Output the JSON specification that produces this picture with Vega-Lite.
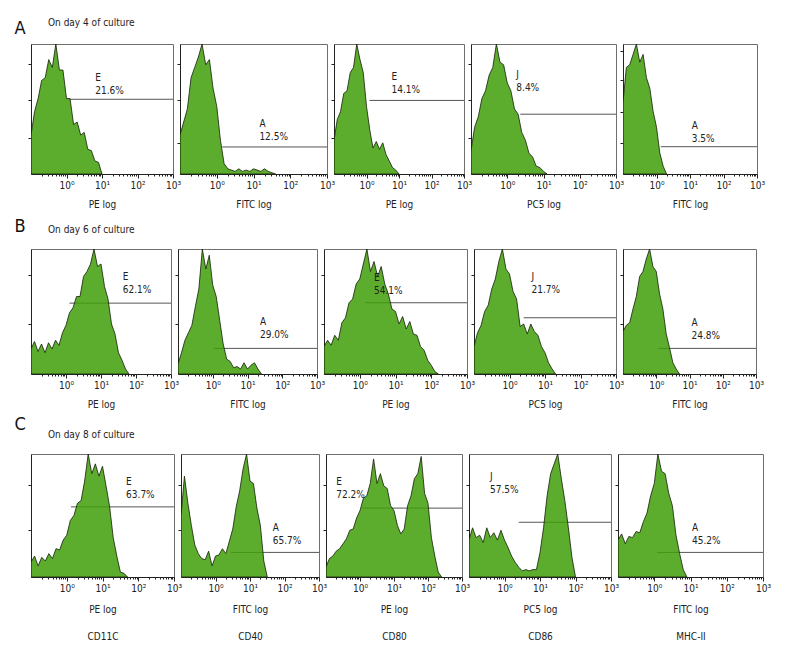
{
"$schema": "https://vega.github.io/schema/vega-lite/v6.json",
"padding": {"left": 13, "top": 17, "right": 4, "bottom": 4},
"background": "white",
"config": {
 "font": "DejaVu Sans Condensed, DejaVu Sans, sans-serif",
 "view": {"stroke": "#6f6f6f", "strokeWidth": 1},
 "axis": {"grid": false, "domainColor": "#222", "tickColor": "#222", "labelColor": "#222", "titleColor": "#222", "labelFontSize": 10, "titleFontSize": 10, "titleFontWeight": "normal", "labelFont": "DejaVu Sans Condensed, DejaVu Sans, sans-serif", "titleFont": "DejaVu Sans Condensed, DejaVu Sans, sans-serif"},
 "title": {"font": "DejaVu Sans Condensed, DejaVu Sans, sans-serif", "fontSize": 10, "fontWeight": "normal", "color": "#222"},
 "text": {"font": "DejaVu Sans Condensed, DejaVu Sans, sans-serif", "fontSize": 10, "color": "#222"}
},
"datasets": {
 "hist": [
{"p":"A1","c":0,"n":30},{"p":"A1","c":1,"n":48},{"p":"A1","c":2,"n":58},{"p":"A1","c":3,"n":72},{"p":"A1","c":4,"n":74},{"p":"A1","c":5,"n":88},{"p":"A1","c":6,"n":82},{"p":"A1","c":7,"n":100},{"p":"A1","c":8,"n":80},{"p":"A1","c":9,"n":80},{"p":"A1","c":10,"n":58},{"p":"A1","c":11,"n":58},{"p":"A1","c":12,"n":38},{"p":"A1","c":13,"n":40},{"p":"A1","c":14,"n":30},{"p":"A1","c":15,"n":32},{"p":"A1","c":16,"n":19},{"p":"A1","c":17,"n":18},{"p":"A1","c":18,"n":10},{"p":"A1","c":19,"n":9},{"p":"A1","c":20,"n":0},
{"p":"A2","c":0,"n":30},{"p":"A2","c":1,"n":40},{"p":"A2","c":2,"n":50},{"p":"A2","c":3,"n":74},{"p":"A2","c":4,"n":82},{"p":"A2","c":5,"n":90},{"p":"A2","c":6,"n":100},{"p":"A2","c":7,"n":84},{"p":"A2","c":8,"n":88},{"p":"A2","c":9,"n":66},{"p":"A2","c":10,"n":52},{"p":"A2","c":11,"n":26},{"p":"A2","c":12,"n":8},{"p":"A2","c":13,"n":4},{"p":"A2","c":14,"n":3},{"p":"A2","c":15,"n":2},{"p":"A2","c":16,"n":4},{"p":"A2","c":17,"n":2},{"p":"A2","c":18,"n":3},{"p":"A2","c":19,"n":2},{"p":"A2","c":20,"n":4},{"p":"A2","c":21,"n":3},{"p":"A2","c":22,"n":2},{"p":"A2","c":23,"n":4},{"p":"A2","c":24,"n":2},{"p":"A2","c":25,"n":1},{"p":"A2","c":26,"n":0},
{"p":"A3","c":0,"n":26},{"p":"A3","c":1,"n":42},{"p":"A3","c":2,"n":48},{"p":"A3","c":3,"n":62},{"p":"A3","c":4,"n":64},{"p":"A3","c":5,"n":78},{"p":"A3","c":6,"n":82},{"p":"A3","c":7,"n":100},{"p":"A3","c":8,"n":88},{"p":"A3","c":9,"n":78},{"p":"A3","c":10,"n":52},{"p":"A3","c":11,"n":34},{"p":"A3","c":12,"n":20},{"p":"A3","c":13,"n":25},{"p":"A3","c":14,"n":19},{"p":"A3","c":15,"n":24},{"p":"A3","c":16,"n":15},{"p":"A3","c":17,"n":10},{"p":"A3","c":18,"n":5},{"p":"A3","c":19,"n":3},{"p":"A3","c":20,"n":0},
{"p":"A4","c":0,"n":18},{"p":"A4","c":1,"n":36},{"p":"A4","c":2,"n":44},{"p":"A4","c":3,"n":58},{"p":"A4","c":4,"n":64},{"p":"A4","c":5,"n":76},{"p":"A4","c":6,"n":82},{"p":"A4","c":7,"n":100},{"p":"A4","c":8,"n":86},{"p":"A4","c":9,"n":84},{"p":"A4","c":10,"n":70},{"p":"A4","c":11,"n":64},{"p":"A4","c":12,"n":50},{"p":"A4","c":13,"n":46},{"p":"A4","c":14,"n":32},{"p":"A4","c":15,"n":26},{"p":"A4","c":16,"n":16},{"p":"A4","c":17,"n":13},{"p":"A4","c":18,"n":6},{"p":"A4","c":19,"n":5},{"p":"A4","c":20,"n":2},{"p":"A4","c":21,"n":0},
{"p":"A5","c":0,"n":55},{"p":"A5","c":1,"n":82},{"p":"A5","c":2,"n":84},{"p":"A5","c":3,"n":92},{"p":"A5","c":4,"n":100},{"p":"A5","c":5,"n":86},{"p":"A5","c":6,"n":92},{"p":"A5","c":7,"n":74},{"p":"A5","c":8,"n":66},{"p":"A5","c":9,"n":48},{"p":"A5","c":10,"n":36},{"p":"A5","c":11,"n":16},{"p":"A5","c":12,"n":6},{"p":"A5","c":13,"n":0},
{"p":"B1","c":0,"n":20},{"p":"B1","c":1,"n":26},{"p":"B1","c":2,"n":18},{"p":"B1","c":3,"n":24},{"p":"B1","c":4,"n":17},{"p":"B1","c":5,"n":25},{"p":"B1","c":6,"n":20},{"p":"B1","c":7,"n":27},{"p":"B1","c":8,"n":23},{"p":"B1","c":9,"n":33},{"p":"B1","c":10,"n":39},{"p":"B1","c":11,"n":49},{"p":"B1","c":12,"n":53},{"p":"B1","c":13,"n":62},{"p":"B1","c":14,"n":62},{"p":"B1","c":15,"n":78},{"p":"B1","c":16,"n":82},{"p":"B1","c":17,"n":88},{"p":"B1","c":18,"n":100},{"p":"B1","c":19,"n":86},{"p":"B1","c":20,"n":88},{"p":"B1","c":21,"n":70},{"p":"B1","c":22,"n":60},{"p":"B1","c":23,"n":40},{"p":"B1","c":24,"n":32},{"p":"B1","c":25,"n":17},{"p":"B1","c":26,"n":11},{"p":"B1","c":27,"n":4},{"p":"B1","c":28,"n":0},
{"p":"B2","c":0,"n":8},{"p":"B2","c":1,"n":17},{"p":"B2","c":2,"n":27},{"p":"B2","c":3,"n":33},{"p":"B2","c":4,"n":39},{"p":"B2","c":5,"n":54},{"p":"B2","c":6,"n":68},{"p":"B2","c":7,"n":100},{"p":"B2","c":8,"n":84},{"p":"B2","c":9,"n":95},{"p":"B2","c":10,"n":71},{"p":"B2","c":11,"n":62},{"p":"B2","c":12,"n":43},{"p":"B2","c":13,"n":24},{"p":"B2","c":14,"n":12},{"p":"B2","c":15,"n":10},{"p":"B2","c":16,"n":5},{"p":"B2","c":17,"n":6},{"p":"B2","c":18,"n":4},{"p":"B2","c":19,"n":9},{"p":"B2","c":20,"n":4},{"p":"B2","c":21,"n":7},{"p":"B2","c":22,"n":9},{"p":"B2","c":23,"n":4},{"p":"B2","c":24,"n":0},
{"p":"B3","c":0,"n":22},{"p":"B3","c":1,"n":27},{"p":"B3","c":2,"n":23},{"p":"B3","c":3,"n":31},{"p":"B3","c":4,"n":27},{"p":"B3","c":5,"n":41},{"p":"B3","c":6,"n":45},{"p":"B3","c":7,"n":57},{"p":"B3","c":8,"n":60},{"p":"B3","c":9,"n":72},{"p":"B3","c":10,"n":76},{"p":"B3","c":11,"n":88},{"p":"B3","c":12,"n":100},{"p":"B3","c":13,"n":82},{"p":"B3","c":14,"n":90},{"p":"B3","c":15,"n":78},{"p":"B3","c":16,"n":86},{"p":"B3","c":17,"n":72},{"p":"B3","c":18,"n":64},{"p":"B3","c":19,"n":52},{"p":"B3","c":20,"n":50},{"p":"B3","c":21,"n":40},{"p":"B3","c":22,"n":46},{"p":"B3","c":23,"n":36},{"p":"B3","c":24,"n":42},{"p":"B3","c":25,"n":32},{"p":"B3","c":26,"n":31},{"p":"B3","c":27,"n":22},{"p":"B3","c":28,"n":19},{"p":"B3","c":29,"n":11},{"p":"B3","c":30,"n":7},{"p":"B3","c":31,"n":2},{"p":"B3","c":32,"n":0},
{"p":"B4","c":0,"n":22},{"p":"B4","c":1,"n":33},{"p":"B4","c":2,"n":39},{"p":"B4","c":3,"n":50},{"p":"B4","c":4,"n":55},{"p":"B4","c":5,"n":68},{"p":"B4","c":6,"n":76},{"p":"B4","c":7,"n":90},{"p":"B4","c":8,"n":100},{"p":"B4","c":9,"n":84},{"p":"B4","c":10,"n":80},{"p":"B4","c":11,"n":66},{"p":"B4","c":12,"n":60},{"p":"B4","c":13,"n":38},{"p":"B4","c":14,"n":40},{"p":"B4","c":15,"n":32},{"p":"B4","c":16,"n":40},{"p":"B4","c":17,"n":34},{"p":"B4","c":18,"n":31},{"p":"B4","c":19,"n":22},{"p":"B4","c":20,"n":17},{"p":"B4","c":21,"n":9},{"p":"B4","c":22,"n":4},{"p":"B4","c":23,"n":0},
{"p":"B5","c":0,"n":34},{"p":"B5","c":1,"n":39},{"p":"B5","c":2,"n":41},{"p":"B5","c":3,"n":52},{"p":"B5","c":4,"n":62},{"p":"B5","c":5,"n":78},{"p":"B5","c":6,"n":82},{"p":"B5","c":7,"n":92},{"p":"B5","c":8,"n":100},{"p":"B5","c":9,"n":86},{"p":"B5","c":10,"n":82},{"p":"B5","c":11,"n":64},{"p":"B5","c":12,"n":52},{"p":"B5","c":13,"n":32},{"p":"B5","c":14,"n":21},{"p":"B5","c":15,"n":9},{"p":"B5","c":16,"n":4},{"p":"B5","c":17,"n":0},
{"p":"C1","c":0,"n":12},{"p":"C1","c":1,"n":17},{"p":"C1","c":2,"n":9},{"p":"C1","c":3,"n":16},{"p":"C1","c":4,"n":13},{"p":"C1","c":5,"n":19},{"p":"C1","c":6,"n":15},{"p":"C1","c":7,"n":23},{"p":"C1","c":8,"n":22},{"p":"C1","c":9,"n":30},{"p":"C1","c":10,"n":34},{"p":"C1","c":11,"n":46},{"p":"C1","c":12,"n":50},{"p":"C1","c":13,"n":60},{"p":"C1","c":14,"n":62},{"p":"C1","c":15,"n":78},{"p":"C1","c":16,"n":100},{"p":"C1","c":17,"n":84},{"p":"C1","c":18,"n":92},{"p":"C1","c":19,"n":82},{"p":"C1","c":20,"n":90},{"p":"C1","c":21,"n":74},{"p":"C1","c":22,"n":57},{"p":"C1","c":23,"n":32},{"p":"C1","c":24,"n":17},{"p":"C1","c":25,"n":4},{"p":"C1","c":26,"n":3},{"p":"C1","c":27,"n":0},
{"p":"C2","c":0,"n":50},{"p":"C2","c":1,"n":82},{"p":"C2","c":2,"n":60},{"p":"C2","c":3,"n":42},{"p":"C2","c":4,"n":26},{"p":"C2","c":5,"n":19},{"p":"C2","c":6,"n":15},{"p":"C2","c":7,"n":14},{"p":"C2","c":8,"n":21},{"p":"C2","c":9,"n":9},{"p":"C2","c":10,"n":17},{"p":"C2","c":11,"n":18},{"p":"C2","c":12,"n":23},{"p":"C2","c":13,"n":19},{"p":"C2","c":14,"n":29},{"p":"C2","c":15,"n":39},{"p":"C2","c":16,"n":57},{"p":"C2","c":17,"n":70},{"p":"C2","c":18,"n":88},{"p":"C2","c":19,"n":100},{"p":"C2","c":20,"n":78},{"p":"C2","c":21,"n":76},{"p":"C2","c":22,"n":56},{"p":"C2","c":23,"n":42},{"p":"C2","c":24,"n":13},{"p":"C2","c":25,"n":0},
{"p":"C3","c":0,"n":8},{"p":"C3","c":1,"n":15},{"p":"C3","c":2,"n":17},{"p":"C3","c":3,"n":21},{"p":"C3","c":4,"n":23},{"p":"C3","c":5,"n":27},{"p":"C3","c":6,"n":31},{"p":"C3","c":7,"n":38},{"p":"C3","c":8,"n":39},{"p":"C3","c":9,"n":48},{"p":"C3","c":10,"n":54},{"p":"C3","c":11,"n":64},{"p":"C3","c":12,"n":66},{"p":"C3","c":13,"n":76},{"p":"C3","c":14,"n":96},{"p":"C3","c":15,"n":76},{"p":"C3","c":16,"n":84},{"p":"C3","c":17,"n":74},{"p":"C3","c":18,"n":72},{"p":"C3","c":19,"n":58},{"p":"C3","c":20,"n":54},{"p":"C3","c":21,"n":42},{"p":"C3","c":22,"n":35},{"p":"C3","c":23,"n":39},{"p":"C3","c":24,"n":58},{"p":"C3","c":25,"n":66},{"p":"C3","c":26,"n":80},{"p":"C3","c":27,"n":84},{"p":"C3","c":28,"n":98},{"p":"C3","c":29,"n":68},{"p":"C3","c":30,"n":60},{"p":"C3","c":31,"n":32},{"p":"C3","c":32,"n":17},{"p":"C3","c":33,"n":4},{"p":"C3","c":34,"n":0},
{"p":"C4","c":0,"n":30},{"p":"C4","c":1,"n":40},{"p":"C4","c":2,"n":32},{"p":"C4","c":3,"n":34},{"p":"C4","c":4,"n":28},{"p":"C4","c":5,"n":40},{"p":"C4","c":6,"n":32},{"p":"C4","c":7,"n":36},{"p":"C4","c":8,"n":30},{"p":"C4","c":9,"n":38},{"p":"C4","c":10,"n":30},{"p":"C4","c":11,"n":24},{"p":"C4","c":12,"n":17},{"p":"C4","c":13,"n":12},{"p":"C4","c":14,"n":8},{"p":"C4","c":15,"n":5},{"p":"C4","c":16,"n":6},{"p":"C4","c":17,"n":5},{"p":"C4","c":18,"n":6},{"p":"C4","c":19,"n":6},{"p":"C4","c":20,"n":20},{"p":"C4","c":21,"n":40},{"p":"C4","c":22,"n":66},{"p":"C4","c":23,"n":84},{"p":"C4","c":24,"n":92},{"p":"C4","c":25,"n":100},{"p":"C4","c":26,"n":80},{"p":"C4","c":27,"n":62},{"p":"C4","c":28,"n":40},{"p":"C4","c":29,"n":16},{"p":"C4","c":30,"n":0},
{"p":"C5","c":0,"n":30},{"p":"C5","c":1,"n":35},{"p":"C5","c":2,"n":27},{"p":"C5","c":3,"n":33},{"p":"C5","c":4,"n":32},{"p":"C5","c":5,"n":37},{"p":"C5","c":6,"n":36},{"p":"C5","c":7,"n":45},{"p":"C5","c":8,"n":52},{"p":"C5","c":9,"n":66},{"p":"C5","c":10,"n":76},{"p":"C5","c":11,"n":100},{"p":"C5","c":12,"n":86},{"p":"C5","c":13,"n":84},{"p":"C5","c":14,"n":68},{"p":"C5","c":15,"n":58},{"p":"C5","c":16,"n":34},{"p":"C5","c":17,"n":19},{"p":"C5","c":18,"n":6},{"p":"C5","c":19,"n":0}
 ],
 "gates": [
{"p":"A1","c":10.8,"c2":40,"n":57.5},{"p":"A2","c":11.5,"c2":40,"n":20.8},{"p":"A3","c":10.9,"c2":40,"n":56.6},{"p":"A4","c":13.6,"c2":40,"n":46},{"p":"A5","c":11.3,"c2":40,"n":21},
{"p":"B1","c":11.0,"c2":40,"n":56.7},{"p":"B2","c":10.4,"c2":40,"n":20.5},{"p":"B3","c":11.4,"c2":40,"n":57},{"p":"B4","c":14.0,"c2":40,"n":45},{"p":"B5","c":10.5,"c2":40,"n":20.5},
{"p":"C1","c":11.2,"c2":40,"n":57},{"p":"C2","c":14.5,"c2":40,"n":20},{"p":"C3","c":10.6,"c2":40,"n":56},{"p":"C4","c":14.0,"c2":40,"n":44.5},{"p":"C5","c":10.8,"c2":40,"n":20}
 ],
 "labels": [
{"p":"A1","c":18.1,"n":78,"t":"E\n21.6%"},{"p":"A2","c":21.6,"n":42.5,"t":"A\n12.5%"},{"p":"A3","c":17.7,"n":78.5,"t":"E\n14.1%"},{"p":"A4","c":12.5,"n":80,"t":"J\n8.4%"},{"p":"A5","c":20.5,"n":41,"t":"A\n3.5%"},
{"p":"B1","c":26.2,"n":81.5,"t":"E\n62.1%"},{"p":"B2","c":23.6,"n":45.5,"t":"A\n29.0%"},{"p":"B3","c":14,"n":81,"t":"E\n54.1%"},{"p":"B4","c":16.2,"n":82,"t":"J\n21.7%"},{"p":"B5","c":20.6,"n":45,"t":"A\n24.8%"},
{"p":"C1","c":26.6,"n":81,"t":"E\n63.7%"},{"p":"C2","c":26.6,"n":44,"t":"A\n65.7%"},{"p":"C3","c":3.0,"n":81,"t":"E\n72.2%"},{"p":"C4","c":5.9,"n":85,"t":"J\n57.5%"},{"p":"C5","c":20.4,"n":44,"t":"A\n45.2%"}
 ]
},
"vconcat": [
 {"hconcat": [
  {"width": 142, "height": 130,
   "title": {"text": "On day 4 of culture", "anchor": "start", "frame": "group", "dx": 17, "offset": -8.6},
   "encoding": {
    "x": {"field": "c", "type": "quantitative", "scale": {"domain": [0, 40]}, "axis": {"title": "PE log", "values": [3.01,4.77,6.02,6.99,7.78,8.45,9.03,9.54,10,13.01,14.77,16.02,16.99,17.78,18.45,19.03,19.54,20,23.01,24.77,26.02,26.99,27.78,28.45,29.03,29.54,30,33.01,34.77,36.02,36.99,37.78,38.45,39.03,39.54,40], "labelExpr": "datum.value == 10 ? '10⁰' : datum.value == 20 ? '10¹' : datum.value == 30 ? '10²' : datum.value == 40 ? '10³' : ''", "tickSize": {"condition": {"test": "datum.value % 10 == 0", "value": 4}, "value": 2}, "labelFlush": false, "labelOverlap": false, "labelPadding": 2, "titlePadding": 9}},
    "y": {"field": "n", "type": "quantitative", "scale": {"domain": [0, 100]}, "axis": {"values": [28, 57, 85], "labels": false, "tickSize": 3, "title": "A", "titleAngle": 0, "titleX": -17, "titleY": -11, "titleAlign": "left", "titleBaseline": "alphabetic", "titleFontSize": 18, "titleColor": "#111"}}
   },
   "layer": [
    {"data": {"name": "gates"}, "transform": [{"filter": "datum.p == 'A1'"}], "mark": {"type": "rule", "color": "#555", "strokeWidth": 1}, "encoding": {"x2": {"field": "c2"}}},
    {"data": {"name": "hist"}, "transform": [{"filter": "datum.p == 'A1'"}], "mark": {"type": "area", "interpolate": "linear", "fill": "#3f9e09", "fillOpacity": 0.85, "stroke": "#142008", "strokeWidth": 0.8, "clip": true}},
    {"data": {"name": "labels"}, "transform": [{"filter": "datum.p == 'A1'"}], "mark": {"type": "text", "align": "left", "baseline": "top", "lineBreak": "\n", "lineHeight": 13}, "encoding": {"text": {"field": "t"}}}
   ]},
  {"width": 147, "height": 130,
   "encoding": {
    "x": {"field": "c", "type": "quantitative", "scale": {"domain": [0, 40]}, "axis": {"title": "FITC log", "values": [3.01,4.77,6.02,6.99,7.78,8.45,9.03,9.54,10,13.01,14.77,16.02,16.99,17.78,18.45,19.03,19.54,20,23.01,24.77,26.02,26.99,27.78,28.45,29.03,29.54,30,33.01,34.77,36.02,36.99,37.78,38.45,39.03,39.54,40], "labelExpr": "datum.value == 10 ? '10⁰' : datum.value == 20 ? '10¹' : datum.value == 30 ? '10²' : datum.value == 40 ? '10³' : ''", "tickSize": {"condition": {"test": "datum.value % 10 == 0", "value": 4}, "value": 2}, "labelFlush": false, "labelOverlap": false, "labelPadding": 2, "titlePadding": 9}},
    "y": {"field": "n", "type": "quantitative", "scale": {"domain": [0, 100]}, "axis": {"values": [24, 57, 85], "labels": false, "tickSize": 3, "title": null}}
   },
   "layer": [
    {"data": {"name": "gates"}, "transform": [{"filter": "datum.p == 'A2'"}], "mark": {"type": "rule", "color": "#555", "strokeWidth": 1}, "encoding": {"x2": {"field": "c2"}}},
    {"data": {"name": "hist"}, "transform": [{"filter": "datum.p == 'A2'"}], "mark": {"type": "area", "interpolate": "linear", "fill": "#3f9e09", "fillOpacity": 0.85, "stroke": "#142008", "strokeWidth": 0.8, "clip": true}},
    {"data": {"name": "labels"}, "transform": [{"filter": "datum.p == 'A2'"}], "mark": {"type": "text", "align": "left", "baseline": "top", "lineBreak": "\n", "lineHeight": 13}, "encoding": {"text": {"field": "t"}}}
   ]},
  {"width": 130, "height": 130,
   "encoding": {
    "x": {"field": "c", "type": "quantitative", "scale": {"domain": [0, 40]}, "axis": {"title": "PE log", "values": [3.01,4.77,6.02,6.99,7.78,8.45,9.03,9.54,10,13.01,14.77,16.02,16.99,17.78,18.45,19.03,19.54,20,23.01,24.77,26.02,26.99,27.78,28.45,29.03,29.54,30,33.01,34.77,36.02,36.99,37.78,38.45,39.03,39.54,40], "labelExpr": "datum.value == 10 ? '10⁰' : datum.value == 20 ? '10¹' : datum.value == 30 ? '10²' : datum.value == 40 ? '10³' : ''", "tickSize": {"condition": {"test": "datum.value % 10 == 0", "value": 4}, "value": 2}, "labelFlush": false, "labelOverlap": false, "labelPadding": 2, "titlePadding": 9}},
    "y": {"field": "n", "type": "quantitative", "scale": {"domain": [0, 100]}, "axis": {"values": [28, 57, 85], "labels": false, "tickSize": 3, "title": null}}
   },
   "layer": [
    {"data": {"name": "gates"}, "transform": [{"filter": "datum.p == 'A3'"}], "mark": {"type": "rule", "color": "#555", "strokeWidth": 1}, "encoding": {"x2": {"field": "c2"}}},
    {"data": {"name": "hist"}, "transform": [{"filter": "datum.p == 'A3'"}], "mark": {"type": "area", "interpolate": "linear", "fill": "#3f9e09", "fillOpacity": 0.85, "stroke": "#142008", "strokeWidth": 0.8, "clip": true}},
    {"data": {"name": "labels"}, "transform": [{"filter": "datum.p == 'A3'"}], "mark": {"type": "text", "align": "left", "baseline": "top", "lineBreak": "\n", "lineHeight": 13}, "encoding": {"text": {"field": "t"}}}
   ]},
  {"width": 145, "height": 130,
   "encoding": {
    "x": {"field": "c", "type": "quantitative", "scale": {"domain": [0, 40]}, "axis": {"title": "PC5 log", "values": [3.01,4.77,6.02,6.99,7.78,8.45,9.03,9.54,10,13.01,14.77,16.02,16.99,17.78,18.45,19.03,19.54,20,23.01,24.77,26.02,26.99,27.78,28.45,29.03,29.54,30,33.01,34.77,36.02,36.99,37.78,38.45,39.03,39.54,40], "labelExpr": "datum.value == 10 ? '10⁰' : datum.value == 20 ? '10¹' : datum.value == 30 ? '10²' : datum.value == 40 ? '10³' : ''", "tickSize": {"condition": {"test": "datum.value % 10 == 0", "value": 4}, "value": 2}, "labelFlush": false, "labelOverlap": false, "labelPadding": 2, "titlePadding": 9}},
    "y": {"field": "n", "type": "quantitative", "scale": {"domain": [0, 100]}, "axis": {"values": [28, 57, 85], "labels": false, "tickSize": 3, "title": null}}
   },
   "layer": [
    {"data": {"name": "gates"}, "transform": [{"filter": "datum.p == 'A4'"}], "mark": {"type": "rule", "color": "#555", "strokeWidth": 1}, "encoding": {"x2": {"field": "c2"}}},
    {"data": {"name": "hist"}, "transform": [{"filter": "datum.p == 'A4'"}], "mark": {"type": "area", "interpolate": "linear", "fill": "#3f9e09", "fillOpacity": 0.85, "stroke": "#142008", "strokeWidth": 0.8, "clip": true}},
    {"data": {"name": "labels"}, "transform": [{"filter": "datum.p == 'A4'"}], "mark": {"type": "text", "align": "left", "baseline": "top", "lineBreak": "\n", "lineHeight": 13}, "encoding": {"text": {"field": "t"}}}
   ]},
  {"width": 134, "height": 130,
   "encoding": {
    "x": {"field": "c", "type": "quantitative", "scale": {"domain": [0, 40]}, "axis": {"title": "FITC log", "values": [3.01,4.77,6.02,6.99,7.78,8.45,9.03,9.54,10,13.01,14.77,16.02,16.99,17.78,18.45,19.03,19.54,20,23.01,24.77,26.02,26.99,27.78,28.45,29.03,29.54,30,33.01,34.77,36.02,36.99,37.78,38.45,39.03,39.54,40], "labelExpr": "datum.value == 10 ? '10⁰' : datum.value == 20 ? '10¹' : datum.value == 30 ? '10²' : datum.value == 40 ? '10³' : ''", "tickSize": {"condition": {"test": "datum.value % 10 == 0", "value": 4}, "value": 2}, "labelFlush": false, "labelOverlap": false, "labelPadding": 2, "titlePadding": 9}},
    "y": {"field": "n", "type": "quantitative", "scale": {"domain": [0, 100]}, "axis": {"values": [24, 48, 72, 95], "labels": false, "tickSize": 3, "title": null}}
   },
   "layer": [
    {"data": {"name": "gates"}, "transform": [{"filter": "datum.p == 'A5'"}], "mark": {"type": "rule", "color": "#555", "strokeWidth": 1}, "encoding": {"x2": {"field": "c2"}}},
    {"data": {"name": "hist"}, "transform": [{"filter": "datum.p == 'A5'"}], "mark": {"type": "area", "interpolate": "linear", "fill": "#3f9e09", "fillOpacity": 0.85, "stroke": "#142008", "strokeWidth": 0.8, "clip": true}},
    {"data": {"name": "labels"}, "transform": [{"filter": "datum.p == 'A5'"}], "mark": {"type": "text", "align": "left", "baseline": "top", "lineBreak": "\n", "lineHeight": 13}, "encoding": {"text": {"field": "t"}}}
   ]}
 ], "spacing": 7, "bounds": "flush"},
 {"hconcat": [
  {"width": 140, "height": 125,
   "title": {"text": "On day 6 of culture", "anchor": "start", "frame": "group", "dx": 17, "offset": -17.6},
   "encoding": {
    "x": {"field": "c", "type": "quantitative", "scale": {"domain": [0, 40]}, "axis": {"title": "PE log", "values": [3.01,4.77,6.02,6.99,7.78,8.45,9.03,9.54,10,13.01,14.77,16.02,16.99,17.78,18.45,19.03,19.54,20,23.01,24.77,26.02,26.99,27.78,28.45,29.03,29.54,30,33.01,34.77,36.02,36.99,37.78,38.45,39.03,39.54,40], "labelExpr": "datum.value == 10 ? '10⁰' : datum.value == 20 ? '10¹' : datum.value == 30 ? '10²' : datum.value == 40 ? '10³' : ''", "tickSize": {"condition": {"test": "datum.value % 10 == 0", "value": 4}, "value": 2}, "labelFlush": false, "labelOverlap": false, "labelPadding": 2, "titlePadding": 9}},
    "y": {"field": "n", "type": "quantitative", "scale": {"domain": [0, 100]}, "axis": {"values": [40, 79], "labels": false, "tickSize": 3, "title": "B", "titleAngle": 0, "titleX": -17, "titleY": -18, "titleAlign": "left", "titleBaseline": "alphabetic", "titleFontSize": 18, "titleColor": "#111"}}
   },
   "layer": [
    {"data": {"name": "gates"}, "transform": [{"filter": "datum.p == 'B1'"}], "mark": {"type": "rule", "color": "#555", "strokeWidth": 1}, "encoding": {"x2": {"field": "c2"}}},
    {"data": {"name": "hist"}, "transform": [{"filter": "datum.p == 'B1'"}], "mark": {"type": "area", "interpolate": "linear", "fill": "#3f9e09", "fillOpacity": 0.85, "stroke": "#142008", "strokeWidth": 0.8, "clip": true}},
    {"data": {"name": "labels"}, "transform": [{"filter": "datum.p == 'B1'"}], "mark": {"type": "text", "align": "left", "baseline": "top", "lineBreak": "\n", "lineHeight": 13}, "encoding": {"text": {"field": "t"}}}
   ]},
  {"width": 139, "height": 125,
   "encoding": {
    "x": {"field": "c", "type": "quantitative", "scale": {"domain": [0, 40]}, "axis": {"title": "FITC log", "values": [3.01,4.77,6.02,6.99,7.78,8.45,9.03,9.54,10,13.01,14.77,16.02,16.99,17.78,18.45,19.03,19.54,20,23.01,24.77,26.02,26.99,27.78,28.45,29.03,29.54,30,33.01,34.77,36.02,36.99,37.78,38.45,39.03,39.54,40], "labelExpr": "datum.value == 10 ? '10⁰' : datum.value == 20 ? '10¹' : datum.value == 30 ? '10²' : datum.value == 40 ? '10³' : ''", "tickSize": {"condition": {"test": "datum.value % 10 == 0", "value": 4}, "value": 2}, "labelFlush": false, "labelOverlap": false, "labelPadding": 2, "titlePadding": 9}},
    "y": {"field": "n", "type": "quantitative", "scale": {"domain": [0, 100]}, "axis": {"values": [40, 79], "labels": false, "tickSize": 3, "title": null}}
   },
   "layer": [
    {"data": {"name": "gates"}, "transform": [{"filter": "datum.p == 'B2'"}], "mark": {"type": "rule", "color": "#555", "strokeWidth": 1}, "encoding": {"x2": {"field": "c2"}}},
    {"data": {"name": "hist"}, "transform": [{"filter": "datum.p == 'B2'"}], "mark": {"type": "area", "interpolate": "linear", "fill": "#3f9e09", "fillOpacity": 0.85, "stroke": "#142008", "strokeWidth": 0.8, "clip": true}},
    {"data": {"name": "labels"}, "transform": [{"filter": "datum.p == 'B2'"}], "mark": {"type": "text", "align": "left", "baseline": "top", "lineBreak": "\n", "lineHeight": 13}, "encoding": {"text": {"field": "t"}}}
   ]},
  {"width": 143, "height": 125,
   "encoding": {
    "x": {"field": "c", "type": "quantitative", "scale": {"domain": [0, 40]}, "axis": {"title": "PE log", "values": [3.01,4.77,6.02,6.99,7.78,8.45,9.03,9.54,10,13.01,14.77,16.02,16.99,17.78,18.45,19.03,19.54,20,23.01,24.77,26.02,26.99,27.78,28.45,29.03,29.54,30,33.01,34.77,36.02,36.99,37.78,38.45,39.03,39.54,40], "labelExpr": "datum.value == 10 ? '10⁰' : datum.value == 20 ? '10¹' : datum.value == 30 ? '10²' : datum.value == 40 ? '10³' : ''", "tickSize": {"condition": {"test": "datum.value % 10 == 0", "value": 4}, "value": 2}, "labelFlush": false, "labelOverlap": false, "labelPadding": 2, "titlePadding": 9}},
    "y": {"field": "n", "type": "quantitative", "scale": {"domain": [0, 100]}, "axis": {"values": [40, 79], "labels": false, "tickSize": 3, "title": null}}
   },
   "layer": [
    {"data": {"name": "gates"}, "transform": [{"filter": "datum.p == 'B3'"}], "mark": {"type": "rule", "color": "#555", "strokeWidth": 1}, "encoding": {"x2": {"field": "c2"}}},
    {"data": {"name": "hist"}, "transform": [{"filter": "datum.p == 'B3'"}], "mark": {"type": "area", "interpolate": "linear", "fill": "#3f9e09", "fillOpacity": 0.85, "stroke": "#142008", "strokeWidth": 0.8, "clip": true}},
    {"data": {"name": "labels"}, "transform": [{"filter": "datum.p == 'B3'"}], "mark": {"type": "text", "align": "left", "baseline": "top", "lineBreak": "\n", "lineHeight": 13}, "encoding": {"text": {"field": "t"}}}
   ]},
  {"width": 142, "height": 125,
   "encoding": {
    "x": {"field": "c", "type": "quantitative", "scale": {"domain": [0, 40]}, "axis": {"title": "PC5 log", "values": [3.01,4.77,6.02,6.99,7.78,8.45,9.03,9.54,10,13.01,14.77,16.02,16.99,17.78,18.45,19.03,19.54,20,23.01,24.77,26.02,26.99,27.78,28.45,29.03,29.54,30,33.01,34.77,36.02,36.99,37.78,38.45,39.03,39.54,40], "labelExpr": "datum.value == 10 ? '10⁰' : datum.value == 20 ? '10¹' : datum.value == 30 ? '10²' : datum.value == 40 ? '10³' : ''", "tickSize": {"condition": {"test": "datum.value % 10 == 0", "value": 4}, "value": 2}, "labelFlush": false, "labelOverlap": false, "labelPadding": 2, "titlePadding": 9}},
    "y": {"field": "n", "type": "quantitative", "scale": {"domain": [0, 100]}, "axis": {"values": [40, 79], "labels": false, "tickSize": 3, "title": null}}
   },
   "layer": [
    {"data": {"name": "gates"}, "transform": [{"filter": "datum.p == 'B4'"}], "mark": {"type": "rule", "color": "#555", "strokeWidth": 1}, "encoding": {"x2": {"field": "c2"}}},
    {"data": {"name": "hist"}, "transform": [{"filter": "datum.p == 'B4'"}], "mark": {"type": "area", "interpolate": "linear", "fill": "#3f9e09", "fillOpacity": 0.85, "stroke": "#142008", "strokeWidth": 0.8, "clip": true}},
    {"data": {"name": "labels"}, "transform": [{"filter": "datum.p == 'B4'"}], "mark": {"type": "text", "align": "left", "baseline": "top", "lineBreak": "\n", "lineHeight": 13}, "encoding": {"text": {"field": "t"}}}
   ]},
  {"width": 133, "height": 125,
   "encoding": {
    "x": {"field": "c", "type": "quantitative", "scale": {"domain": [0, 40]}, "axis": {"title": "FITC log", "values": [3.01,4.77,6.02,6.99,7.78,8.45,9.03,9.54,10,13.01,14.77,16.02,16.99,17.78,18.45,19.03,19.54,20,23.01,24.77,26.02,26.99,27.78,28.45,29.03,29.54,30,33.01,34.77,36.02,36.99,37.78,38.45,39.03,39.54,40], "labelExpr": "datum.value == 10 ? '10⁰' : datum.value == 20 ? '10¹' : datum.value == 30 ? '10²' : datum.value == 40 ? '10³' : ''", "tickSize": {"condition": {"test": "datum.value % 10 == 0", "value": 4}, "value": 2}, "labelFlush": false, "labelOverlap": false, "labelPadding": 2, "titlePadding": 9}},
    "y": {"field": "n", "type": "quantitative", "scale": {"domain": [0, 100]}, "axis": {"values": [40, 79], "labels": false, "tickSize": 3, "title": null}}
   },
   "layer": [
    {"data": {"name": "gates"}, "transform": [{"filter": "datum.p == 'B5'"}], "mark": {"type": "rule", "color": "#555", "strokeWidth": 1}, "encoding": {"x2": {"field": "c2"}}},
    {"data": {"name": "hist"}, "transform": [{"filter": "datum.p == 'B5'"}], "mark": {"type": "area", "interpolate": "linear", "fill": "#3f9e09", "fillOpacity": 0.85, "stroke": "#142008", "strokeWidth": 0.8, "clip": true}},
    {"data": {"name": "labels"}, "transform": [{"filter": "datum.p == 'B5'"}], "mark": {"type": "text", "align": "left", "baseline": "top", "lineBreak": "\n", "lineHeight": 13}, "encoding": {"text": {"field": "t"}}}
   ]}
 ], "spacing": 7, "bounds": "flush"},
 {"hconcat": [
  {"width": 143, "height": 123,
   "title": {"text": "On day 8 of culture", "anchor": "start", "frame": "group", "dx": 17, "offset": -24.6},
   "encoding": {
    "x": {"field": "c", "type": "quantitative", "scale": {"domain": [0, 40]}, "axis": {"title": ["PE log", "CD11C"], "titleLineHeight": 27, "values": [3.01,4.77,6.02,6.99,7.78,8.45,9.03,9.54,10,13.01,14.77,16.02,16.99,17.78,18.45,19.03,19.54,20,23.01,24.77,26.02,26.99,27.78,28.45,29.03,29.54,30,33.01,34.77,36.02,36.99,37.78,38.45,39.03,39.54,40], "labelExpr": "datum.value == 10 ? '10⁰' : datum.value == 20 ? '10¹' : datum.value == 30 ? '10²' : datum.value == 40 ? '10³' : ''", "tickSize": {"condition": {"test": "datum.value % 10 == 0", "value": 4}, "value": 2}, "labelFlush": false, "labelOverlap": false, "labelPadding": 2, "titlePadding": 11}},
    "y": {"field": "n", "type": "quantitative", "scale": {"domain": [0, 100]}, "axis": {"values": [38, 75], "labels": false, "tickSize": 3, "title": "C", "titleAngle": 0, "titleX": -17, "titleY": -25, "titleAlign": "left", "titleBaseline": "alphabetic", "titleFontSize": 18, "titleColor": "#111"}}
   },
   "layer": [
    {"data": {"name": "gates"}, "transform": [{"filter": "datum.p == 'C1'"}], "mark": {"type": "rule", "color": "#555", "strokeWidth": 1}, "encoding": {"x2": {"field": "c2"}}},
    {"data": {"name": "hist"}, "transform": [{"filter": "datum.p == 'C1'"}], "mark": {"type": "area", "interpolate": "linear", "fill": "#3f9e09", "fillOpacity": 0.85, "stroke": "#142008", "strokeWidth": 0.8, "clip": true}},
    {"data": {"name": "labels"}, "transform": [{"filter": "datum.p == 'C1'"}], "mark": {"type": "text", "align": "left", "baseline": "top", "lineBreak": "\n", "lineHeight": 13}, "encoding": {"text": {"field": "t"}}}
   ]},
  {"width": 138, "height": 123,
   "encoding": {
    "x": {"field": "c", "type": "quantitative", "scale": {"domain": [0, 40]}, "axis": {"title": ["FITC log", "CD40"], "titleLineHeight": 27, "values": [3.01,4.77,6.02,6.99,7.78,8.45,9.03,9.54,10,13.01,14.77,16.02,16.99,17.78,18.45,19.03,19.54,20,23.01,24.77,26.02,26.99,27.78,28.45,29.03,29.54,30,33.01,34.77,36.02,36.99,37.78,38.45,39.03,39.54,40], "labelExpr": "datum.value == 10 ? '10⁰' : datum.value == 20 ? '10¹' : datum.value == 30 ? '10²' : datum.value == 40 ? '10³' : ''", "tickSize": {"condition": {"test": "datum.value % 10 == 0", "value": 4}, "value": 2}, "labelFlush": false, "labelOverlap": false, "labelPadding": 2, "titlePadding": 11}},
    "y": {"field": "n", "type": "quantitative", "scale": {"domain": [0, 100]}, "axis": {"values": [38, 75], "labels": false, "tickSize": 3, "title": null}}
   },
   "layer": [
    {"data": {"name": "gates"}, "transform": [{"filter": "datum.p == 'C2'"}], "mark": {"type": "rule", "color": "#555", "strokeWidth": 1}, "encoding": {"x2": {"field": "c2"}}},
    {"data": {"name": "hist"}, "transform": [{"filter": "datum.p == 'C2'"}], "mark": {"type": "area", "interpolate": "linear", "fill": "#3f9e09", "fillOpacity": 0.85, "stroke": "#142008", "strokeWidth": 0.8, "clip": true}},
    {"data": {"name": "labels"}, "transform": [{"filter": "datum.p == 'C2'"}], "mark": {"type": "text", "align": "left", "baseline": "top", "lineBreak": "\n", "lineHeight": 13}, "encoding": {"text": {"field": "t"}}}
   ]},
  {"width": 136, "height": 123,
   "encoding": {
    "x": {"field": "c", "type": "quantitative", "scale": {"domain": [0, 40]}, "axis": {"title": ["PE log", "CD80"], "titleLineHeight": 27, "values": [3.01,4.77,6.02,6.99,7.78,8.45,9.03,9.54,10,13.01,14.77,16.02,16.99,17.78,18.45,19.03,19.54,20,23.01,24.77,26.02,26.99,27.78,28.45,29.03,29.54,30,33.01,34.77,36.02,36.99,37.78,38.45,39.03,39.54,40], "labelExpr": "datum.value == 10 ? '10⁰' : datum.value == 20 ? '10¹' : datum.value == 30 ? '10²' : datum.value == 40 ? '10³' : ''", "tickSize": {"condition": {"test": "datum.value % 10 == 0", "value": 4}, "value": 2}, "labelFlush": false, "labelOverlap": false, "labelPadding": 2, "titlePadding": 11}},
    "y": {"field": "n", "type": "quantitative", "scale": {"domain": [0, 100]}, "axis": {"values": [38, 75], "labels": false, "tickSize": 3, "title": null}}
   },
   "layer": [
    {"data": {"name": "gates"}, "transform": [{"filter": "datum.p == 'C3'"}], "mark": {"type": "rule", "color": "#555", "strokeWidth": 1}, "encoding": {"x2": {"field": "c2"}}},
    {"data": {"name": "hist"}, "transform": [{"filter": "datum.p == 'C3'"}], "mark": {"type": "area", "interpolate": "linear", "fill": "#3f9e09", "fillOpacity": 0.85, "stroke": "#142008", "strokeWidth": 0.8, "clip": true}},
    {"data": {"name": "labels"}, "transform": [{"filter": "datum.p == 'C3'"}], "mark": {"type": "text", "align": "left", "baseline": "top", "lineBreak": "\n", "lineHeight": 13}, "encoding": {"text": {"field": "t"}}}
   ]},
  {"width": 142, "height": 123,
   "encoding": {
    "x": {"field": "c", "type": "quantitative", "scale": {"domain": [0, 40]}, "axis": {"title": ["PC5 log", "CD86"], "titleLineHeight": 27, "values": [3.01,4.77,6.02,6.99,7.78,8.45,9.03,9.54,10,13.01,14.77,16.02,16.99,17.78,18.45,19.03,19.54,20,23.01,24.77,26.02,26.99,27.78,28.45,29.03,29.54,30,33.01,34.77,36.02,36.99,37.78,38.45,39.03,39.54,40], "labelExpr": "datum.value == 10 ? '10⁰' : datum.value == 20 ? '10¹' : datum.value == 30 ? '10²' : datum.value == 40 ? '10³' : ''", "tickSize": {"condition": {"test": "datum.value % 10 == 0", "value": 4}, "value": 2}, "labelFlush": false, "labelOverlap": false, "labelPadding": 2, "titlePadding": 11}},
    "y": {"field": "n", "type": "quantitative", "scale": {"domain": [0, 100]}, "axis": {"values": [38, 75], "labels": false, "tickSize": 3, "title": null}}
   },
   "layer": [
    {"data": {"name": "gates"}, "transform": [{"filter": "datum.p == 'C4'"}], "mark": {"type": "rule", "color": "#555", "strokeWidth": 1}, "encoding": {"x2": {"field": "c2"}}},
    {"data": {"name": "hist"}, "transform": [{"filter": "datum.p == 'C4'"}], "mark": {"type": "area", "interpolate": "linear", "fill": "#3f9e09", "fillOpacity": 0.85, "stroke": "#142008", "strokeWidth": 0.8, "clip": true}},
    {"data": {"name": "labels"}, "transform": [{"filter": "datum.p == 'C4'"}], "mark": {"type": "text", "align": "left", "baseline": "top", "lineBreak": "\n", "lineHeight": 13}, "encoding": {"text": {"field": "t"}}}
   ]},
  {"width": 145, "height": 123,
   "encoding": {
    "x": {"field": "c", "type": "quantitative", "scale": {"domain": [0, 40]}, "axis": {"title": ["FITC log", "MHC-II"], "titleLineHeight": 27, "values": [3.01,4.77,6.02,6.99,7.78,8.45,9.03,9.54,10,13.01,14.77,16.02,16.99,17.78,18.45,19.03,19.54,20,23.01,24.77,26.02,26.99,27.78,28.45,29.03,29.54,30,33.01,34.77,36.02,36.99,37.78,38.45,39.03,39.54,40], "labelExpr": "datum.value == 10 ? '10⁰' : datum.value == 20 ? '10¹' : datum.value == 30 ? '10²' : datum.value == 40 ? '10³' : ''", "tickSize": {"condition": {"test": "datum.value % 10 == 0", "value": 4}, "value": 2}, "labelFlush": false, "labelOverlap": false, "labelPadding": 2, "titlePadding": 11}},
    "y": {"field": "n", "type": "quantitative", "scale": {"domain": [0, 100]}, "axis": {"values": [38, 75], "labels": false, "tickSize": 3, "title": null}}
   },
   "layer": [
    {"data": {"name": "gates"}, "transform": [{"filter": "datum.p == 'C5'"}], "mark": {"type": "rule", "color": "#555", "strokeWidth": 1}, "encoding": {"x2": {"field": "c2"}}},
    {"data": {"name": "hist"}, "transform": [{"filter": "datum.p == 'C5'"}], "mark": {"type": "area", "interpolate": "linear", "fill": "#3f9e09", "fillOpacity": 0.85, "stroke": "#142008", "strokeWidth": 0.8, "clip": true}},
    {"data": {"name": "labels"}, "transform": [{"filter": "datum.p == 'C5'"}], "mark": {"type": "text", "align": "left", "baseline": "top", "lineBreak": "\n", "lineHeight": 13}, "encoding": {"text": {"field": "t"}}}
   ]}
 ], "spacing": 7, "bounds": "flush"}
],
"spacing": 205,
"bounds": "flush"
}
